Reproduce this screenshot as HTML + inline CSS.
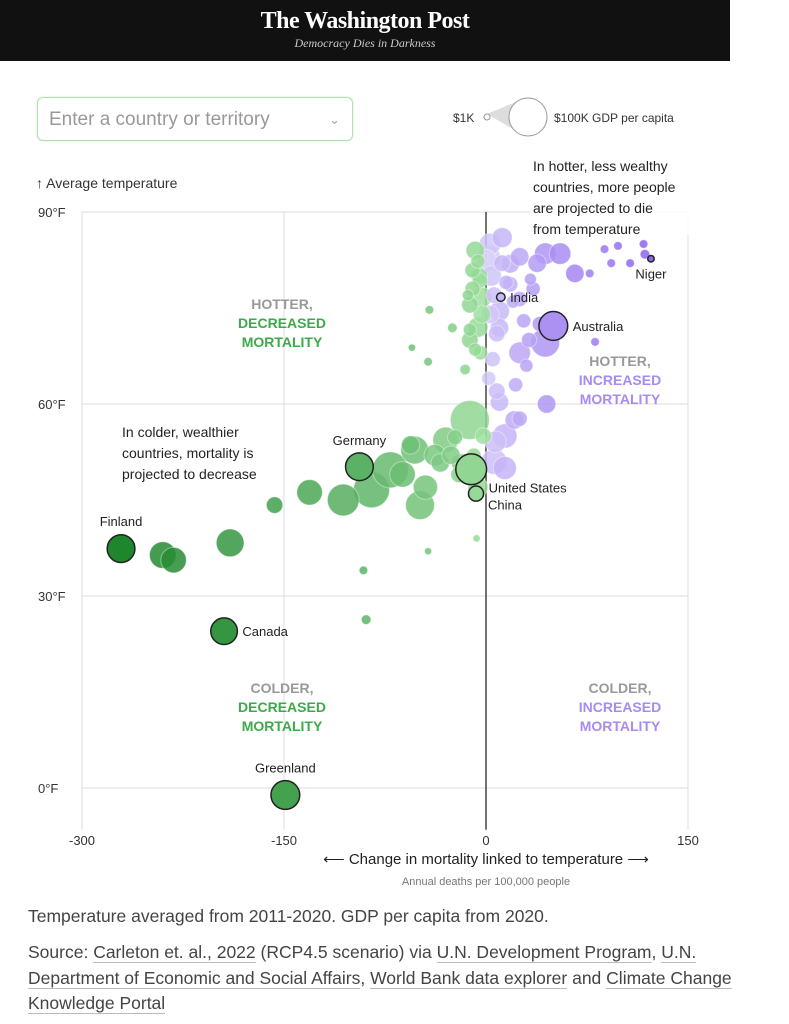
<!DOCTYPE html>
<html><head><meta charset="utf-8"><style>
body{margin:0;background:#fff;width:789px;height:1024px;overflow:hidden;font-family:"Liberation Sans",sans-serif;position:relative}
.hdr{position:absolute;left:0;top:0;width:730px;height:61px;background:#111;color:#fff;text-align:center}
.abs{position:absolute}
svg text{font-family:"Liberation Sans",sans-serif}
</style></head><body>
<div class="hdr">
<div style="font-family:'Liberation Serif',serif;font-weight:bold;font-size:24px;margin-top:8px;letter-spacing:-0.5px">The Washington Post</div>
<div style="font-family:'Liberation Serif',serif;font-style:italic;font-size:12px;color:#ccc;margin-top:1px">Democracy Dies in Darkness</div>
</div>
<div class="abs" style="left:37px;top:97px;width:316px;height:44px;border:1.5px solid #b5dfb0;border-radius:6px;box-shadow:0 0 2px #cfe8cb;color:#999;font-size:19px;line-height:44px;padding-left:11px;box-sizing:border-box">Enter a country or territory<span style="position:absolute;right:12px;top:0;font-size:13px;color:#aaa">⌄</span></div>
<svg class="abs" style="left:0;top:0" width="789" height="1024">
<g>
<text x="453" y="122" font-size="12" fill="#333">$1K</text>
<polygon points="487,114 525,98 525,136" fill="#ddd"/>
<circle cx="487" cy="117" r="3" fill="#fff" stroke="#999"/>
<circle cx="528" cy="117" r="19" fill="#fff" stroke="#999"/>
<text x="554" y="122" font-size="12" fill="#333">$100K GDP per capita</text>
</g>
<g id="grid"></g>
<g id="marks"></g>
<g id="labels" font-size="13" fill="#222"></g>
<text x="36" y="188" font-size="14" fill="#333">↑ Average temperature</text>
<g font-size="14" fill="#222">
<rect x="530" y="155" width="165" height="80" fill="#fff" opacity="0.85"/>
<text x="533" y="171">In hotter, less wealthy</text><text x="533" y="192">countries, more people</text><text x="533" y="213">are projected to die</text><text x="533" y="234">from temperature</text></g>
<g font-size="14" fill="#222">
<text x="122" y="437">In colder, wealthier</text><text x="122" y="458">countries, mortality is</text><text x="122" y="479">projected to decrease</text></g>
<g font-size="14" font-weight="bold" text-anchor="middle">
<text x="282" y="309" fill="#999">HOTTER,</text><text x="282" y="328" fill="#3daa4a">DECREASED</text><text x="282" y="347" fill="#3daa4a">MORTALITY</text>
<text x="620" y="366" fill="#999">HOTTER,</text><text x="620" y="385" fill="#a98af2">INCREASED</text><text x="620" y="404" fill="#a98af2">MORTALITY</text>
<text x="282" y="693" fill="#999">COLDER,</text><text x="282" y="712" fill="#3daa4a">DECREASED</text><text x="282" y="731" fill="#3daa4a">MORTALITY</text>
<text x="620" y="693" fill="#999">COLDER,</text><text x="620" y="712" fill="#a98af2">INCREASED</text><text x="620" y="731" fill="#a98af2">MORTALITY</text></g>
<g id="ticks" font-size="13" fill="#333"></g>
<text x="486" y="864" font-size="15" fill="#222" text-anchor="middle">⟵ Change in mortality linked to temperature ⟶</text>
<text x="486" y="885" font-size="11" fill="#777" text-anchor="middle">Annual deaths per 100,000 people</text>
</svg>
<div class="abs" style="left:28px;top:906px;font-size:17.5px;color:#444">Temperature averaged from 2011-2020. GDP per capita from 2020.</div>
<div class="abs" style="left:28px;top:940px;width:705px;font-size:17.5px;color:#444;line-height:25.5px">Source: <span style="border-bottom:1px solid #bbb">Carleton et. al., 2022</span> (RCP4.5 scenario) via <span style="border-bottom:1px solid #bbb">U.N. Development Program</span>, <span style="border-bottom:1px solid #bbb">U.N. Department of Economic and Social Affairs</span>, <span style="border-bottom:1px solid #bbb">World Bank data explorer</span> and <span style="border-bottom:1px solid #bbb">Climate Change Knowledge Portal</span></div>
<script>
const xTicks=[-300,-150,0,150];
const yTicks=[0,30,60,90];
const mortality=[-240,-232,-190,-157,-131,-106,-85,-91,-89,-43,-7,-49,-53,-71,-30,-12,-19,-34,-56,-23,-13.4,-12,-4.5,-8,-15.5,-42,-25,-55,-43,-6,-12,-10,3,18,25,44,55,66,10,25,44,10,21,25,7,6,40,25,18,33,77,88,98,117,107,93,118,81,-3,10,0,14,45,-6,
-8,-5,-10,-3,-6,-12,-4,2,4,6,3,8,5,2,12,15,20,28,32,30,22,12,8,35,38,14,-2,-9,-14,-20,-26,-38,-62,-45];
const temperature=[36.4,35.6,38.3,44.2,46.2,45,46.6,34,26.3,37,39,44.2,52.8,49.7,54.4,57.5,50.8,50.8,53.6,54.8,77,71.6,79.3,68.5,65.4,74.7,71.9,68.8,66.6,82.3,75.5,80.9,85,81.9,83,83.5,83.5,80.4,71.9,68,69.6,60.3,57.5,57.7,54.1,51,72.5,76.4,78.7,79.5,80.4,84.2,84.7,85,82,82,83.4,69.7,76.7,74.5,82.5,50,60,47,
84,80,78,74,72,70,68,83,80,77,74,71,67,64,82,79,76,73,70,66,63,86,62,78,82,55,55,52,51,49,52,52,49,47];
const gdp=[50,45,55,15,45,75,100,2,3,1,1,60,55,100,45,120,20,20,20,12,5,8,12,8,4,2,3,1,2,10,15,12,30,20,20,30,30,20,20,30,60,20,20,12,30,45,12,12,12,6,2,2,2,2,2,2,3,2,25,25,30,35,20,25,
20,15,12,18,25,15,10,35,25,15,20,15,12,10,15,10,8,10,12,8,10,25,15,10,20,40,15,10,12,15,20,30,45,40];
const labeled=["Finland","Canada","Greenland","Germany","United States","China","India","Australia","Niger"];
const lMort=[-271,-194.5,-149,-94,-11,-7.4,11,50,122.5];
const lTemp=[37.4,24.5,-1.1,50.2,49.8,46,76.7,72.2,82.7];
const lGdp=[55,50,60,55,70,12,2,60,0.6];

const X=v=>486+v*202/150, Y=v=>788-v*6.4;
const R=g=>2+Math.sqrt(g)*1.6;
const NS='http://www.w3.org/2000/svg';
function mk(t,a,p){const e=document.createElementNS(NS,t);for(const k in a)e.setAttribute(k,a[k]);p.appendChild(e);return e;}
function mix(a,b,t){return 'rgb('+a.map((v,i)=>Math.round(v+(b[i]-v)*t)).join(',')+')';}
function col(m,tp){if(m<0){const t=Math.min(1,-m/260);return mix([165,229,165],[30,135,45],Math.pow(t,0.6));}
const t=Math.min(1,m/120);return mix([218,210,250],[140,100,238],Math.pow(t,0.6));}
const grid=document.getElementById('grid'),marks=document.getElementById('marks'),labels=document.getElementById('labels'),ticks=document.getElementById('ticks');
yTicks.forEach(v=>{const l=mk('line',{x1:X(-300),x2:X(150),y1:Y(v),y2:Y(v),stroke:'#ddd'},grid);


const t=mk('text',{x:38,y:Y(v)+5},ticks);t.textContent=v+'°F';

});
xTicks.forEach(v=>{const l=mk('line',{x1:X(v),x2:X(v),y1:Y(90),y2:Y(-6.5),stroke:v==0?'#444':'#ddd','stroke-width':v==0?1.5:1},grid);


const t=mk('text',{x:X(v),y:845,'text-anchor':'middle'},ticks);t.textContent=v;

});
const order=mortality.map((m,i)=>i).sort((a,b)=>gdp[b]-gdp[a]);
order.forEach(i=>{const c=mk('circle',{cx:X(mortality[i]),cy:Y(temperature[i]),r:R(gdp[i]),fill:col(mortality[i],temperature[i]),'fill-opacity':0.85,stroke:'rgba(255,255,255,0.4)'},marks);

});
labeled.forEach((n,i)=>{const cx=X(lMort[i]),cy=Y(lTemp[i]),r=R(lGdp[i]);
const c=mk('circle',{cx:cx,cy:cy,r:r,fill:col(lMort[i],lTemp[i]),stroke:'#222','stroke-width':1.5},marks);


let tx,ty;
if(n==='Finland'){tx=cx;ty=cy-r-9;}else if(n==='Greenland'||n==='Germany'){tx=cx;ty=cy-r-8;}
else if(n==='Niger'){tx=cx;ty=cy+20;}else if(n==='United States'){tx=cx+r+2;ty=cy+23;}else if(n==='China'){tx=cx+12;ty=cy+16;}
else{tx=cx+r+5;ty=cy+5;}
const t=mk('text',{x:tx,y:ty,'text-anchor':(n==='Finland'||n==='Greenland'||n==='Germany'||n==='Niger')?'middle':'start'},labels);t.textContent=n;

});
</script>
</body></html>
